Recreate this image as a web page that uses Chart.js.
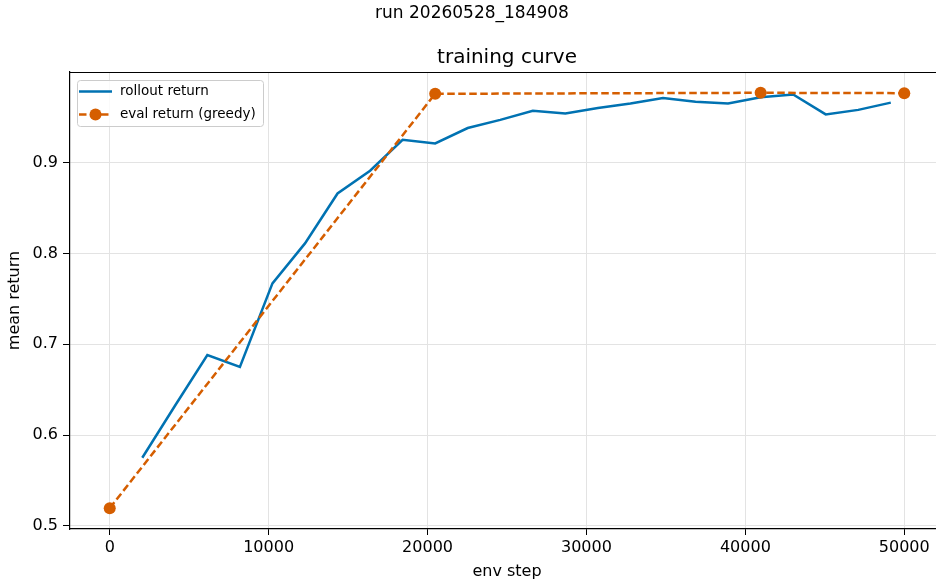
<!DOCTYPE html>
<html>
<head>
<meta charset="utf-8">
<script src="https://cdn.jsdelivr.net/npm/chart.js@4.4.1/dist/chart.umd.min.js"></script>
<style>
  html, body { margin: 0; padding: 0; background: #ffffff; overflow: hidden; }
  #wrap { width: 952px; height: 584px; position: relative; }
</style>
</head>
<body>
<div id="wrap"><canvas id="c" width="952" height="584"></canvas></div>
<script>
// ---- data ----
const rolloutSteps = [2048, 4096, 6144, 8192, 10240, 12288, 14336, 16384, 18432, 20480,
  22528, 24576, 26624, 28672, 30720, 32768, 34816, 36864, 38912, 40960,
  43008, 45056, 47104, 49152];
const rolloutReturn = [0.575, 0.632, 0.688, 0.675, 0.767, 0.811, 0.866, 0.891, 0.925, 0.921,
  0.938, 0.947, 0.957, 0.954, 0.960, 0.965, 0.971, 0.967, 0.965, 0.972,
  0.975, 0.953, 0.958, 0.966];
const evalSteps = [0, 20480, 40960, 50000];
const evalReturn = [0.5195, 0.9757, 0.9768, 0.9764];
const xTickValues = [0, 10000, 20000, 30000, 40000, 50000];
const yTickValues = [0.5, 0.6, 0.7, 0.8, 0.9];
const seriesLabels = ['rollout return', 'eval return (greedy)'];
const suptitleText = 'run 20260528_184908';
const axesTitleText = 'training curve';
const xAxisLabel = 'env step';
const yAxisLabel = 'mean return';

const BLUE = '#0072B2';
const ORANGE = '#D55E00';
const FONT = "'DejaVu Sans', 'Liberation Sans', sans-serif";

const toPoints = (xs, ys) => xs.map((x, i) => ({ x: x, y: ys[i] }));

const frameAndLegend = {
  id: 'frameAndLegend',
  afterDatasetsDraw(chart) {
    const ctx = chart.ctx;
    const a = chart.chartArea;
    ctx.save();
    // top spine
    ctx.strokeStyle = '#000';
    ctx.lineWidth = 1.2;
    ctx.beginPath();
    ctx.moveTo(a.left, a.top + 0.5);
    ctx.lineTo(a.right, a.top + 0.5);
    ctx.stroke();

    // legend (matplotlib style, upper left inside axes)
    const bx = a.left + 7.5, by = a.top + 8.5, bw = 186, bh = 46;
    ctx.beginPath();
    if (ctx.roundRect) ctx.roundRect(bx, by, bw, bh, 3); else ctx.rect(bx, by, bw, bh);
    ctx.fillStyle = 'rgba(255,255,255,0.8)';
    ctx.fill();
    ctx.strokeStyle = '#cccccc';
    ctx.lineWidth = 1;
    ctx.stroke();

    const ds = chart.data.datasets;
    const rows = [a.top + 19.5, a.top + 42.5];
    const sx0 = a.left + 9, sx1 = a.left + 42;
    ds.forEach((d, i) => {
      const y = rows[i];
      ctx.strokeStyle = d.borderColor;
      ctx.lineWidth = d.borderWidth;
      ctx.setLineDash(d.borderDash || []);
      ctx.beginPath();
      ctx.moveTo(sx0, y);
      ctx.lineTo(sx1, y);
      ctx.stroke();
      ctx.setLineDash([]);
      if (d.pointRadius > 0) {
        ctx.fillStyle = d.pointBackgroundColor;
        ctx.beginPath();
        ctx.arc((sx0 + sx1) / 2, y, d.pointRadius, 0, Math.PI * 2);
        ctx.fill();
      }
      ctx.fillStyle = '#000';
      ctx.font = '13.5px ' + FONT;
      ctx.textBaseline = 'middle';
      ctx.textAlign = 'left';
      ctx.fillText(d.label, a.left + 50, y);
    });
    ctx.restore();
  }
};

new Chart(document.getElementById('c'), {
  type: 'line',
  data: {
    datasets: [
      {
        label: seriesLabels[0],
        data: toPoints(rolloutSteps, rolloutReturn),
        borderColor: BLUE,
        backgroundColor: BLUE,
        borderWidth: 2.5,
        pointRadius: 0,
        tension: 0,
        fill: false,
        order: 1
      },
      {
        label: seriesLabels[1],
        data: toPoints(evalSteps, evalReturn),
        borderColor: ORANGE,
        backgroundColor: ORANGE,
        pointBackgroundColor: ORANGE,
        pointBorderColor: ORANGE,
        pointBorderWidth: 0,
        borderWidth: 2.5,
        borderDash: [7.5, 3.5],
        pointRadius: 6,
        tension: 0,
        fill: false,
        order: 0
      }
    ]
  },
  options: {
    responsive: false,
    animation: false,
    devicePixelRatio: 1,
    clip: false,
    layout: { padding: { left: 0, right: 8, top: 0, bottom: 0 } },
    plugins: {
      legend: { display: false },
      tooltip: { enabled: false },
      title: {
        display: true,
        text: suptitleText,
        color: '#000',
        font: { family: FONT, size: 17, weight: 'normal' },
        padding: { top: 3, bottom: 0 }
      },
      subtitle: {
        display: true,
        text: axesTitleText,
        fullSize: false,
        color: '#000',
        font: { family: FONT, size: 20, weight: 'normal' },
        padding: { top: 22.6, bottom: 2 }
      }
    },
    scales: {
      x: {
        type: 'linear',
        min: -2500,
        max: 52500,
        afterBuildTicks: (s) => { s.ticks = xTickValues.map(v => ({ value: v })); },
        afterFit: (s) => { s.height = 55; },
        ticks: {
          color: '#000',
          font: { family: FONT, size: 16 },
          padding: 3,
          maxRotation: 0,
          autoSkip: false,
          callback: (v) => String(v)
        },
        grid: { color: '#e3e3e3', lineWidth: 1, tickColor: '#000', tickLength: 6, drawTicks: true },
        border: { display: true, color: '#000', width: 1.2 },
        title: {
          display: true,
          text: xAxisLabel,
          color: '#000',
          font: { family: FONT, size: 16 },
          padding: { top: 0, bottom: 3 }
        }
      },
      y: {
        type: 'linear',
        min: 0.4966,
        max: 0.9997,
        afterBuildTicks: (s) => { s.ticks = yTickValues.map(v => ({ value: v })); },
        afterFit: (s) => { s.width = 70; },
        ticks: {
          color: '#000',
          font: { family: FONT, size: 16 },
          padding: 5,
          autoSkip: false,
          callback: (v) => Number(v).toFixed(1)
        },
        grid: { color: '#e3e3e3', lineWidth: 1, tickColor: '#000', tickLength: 7, drawTicks: true },
        border: { display: true, color: '#000', width: 1.2 },
        title: {
          display: true,
          text: yAxisLabel,
          color: '#000',
          font: { family: FONT, size: 16 },
          padding: { top: 5, bottom: 0 }
        }
      }
    }
  },
  plugins: [frameAndLegend]
});
</script>
</body>
</html>
